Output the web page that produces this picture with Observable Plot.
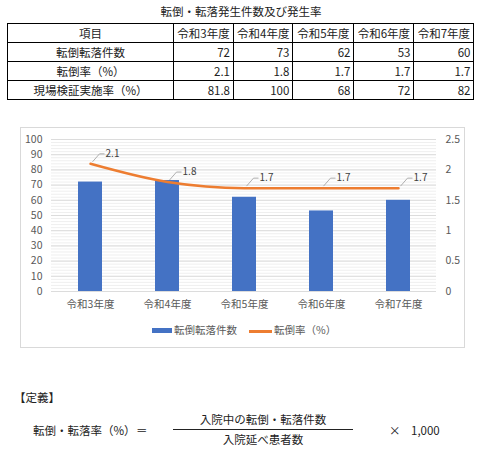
<!DOCTYPE html>
<html><head><meta charset="utf-8">
<script src="https://cdn.jsdelivr.net/npm/d3@7"></script>
<script src="https://cdn.jsdelivr.net/npm/@observablehq/plot@0.6"></script>
<style>
body{margin:0;width:480px;height:457px;position:relative;background:#fff;font-family:"Noto Sans CJK JP","Noto Sans",sans-serif;color:#222;overflow:hidden}
.abs{position:absolute;white-space:nowrap;line-height:1}
#title{left:0;width:482px;top:6px;text-align:center;font-size:11.5px}
table{position:absolute;left:7px;top:23px;border-collapse:collapse;table-layout:fixed;font-size:11.5px}
td{border:1px solid #000;height:18px;padding:0 3px;line-height:18px;white-space:nowrap}
td.c{text-align:center}
td.n{text-align:right}
#chartbox{position:absolute;left:20px;top:127px;width:445px;height:221px;box-sizing:border-box;border:1px solid #d9d9d9}
#chart{position:absolute;left:0;top:0}
.leg{font-size:10.5px;color:#595959}
</style></head><body>
<div id="title" class="abs">転倒・転落発生件数及び発生率</div>
<table id="tbl"></table>
<div id="chartbox"><div id="chart"></div></div>
<div class="abs" style="left:152px;top:328px;width:20px;height:5px;background:#4472C4"></div>
<div class="abs leg" id="leg1" style="left:174px;top:325px"></div>
<div class="abs" style="left:249px;top:330px;width:23px;height:2.5px;background:#ED7D31"></div>
<div class="abs leg" id="leg2" style="left:274px;top:325px"></div>

<div class="abs" style="left:14px;top:392px;font-size:11.5px">【定義】</div>
<div class="abs" style="left:33px;top:425px;font-size:11.5px">転倒・転落率（%）</div>
<div class="abs" style="left:136px;top:425px;font-size:11.5px">＝</div>
<div class="abs" style="left:173px;width:180px;top:414px;text-align:center;font-size:11.5px">入院中の転倒・転落件数</div>
<div class="abs" style="left:173px;width:180px;top:428.5px;height:1.3px;background:#222"></div>
<div class="abs" style="left:173px;width:180px;top:434px;text-align:center;font-size:11.5px">入院延べ患者数</div>
<div class="abs" style="left:389px;top:425px;font-size:11.5px">×</div>
<div class="abs" style="left:411px;top:425px;font-size:11.5px">1,000</div>
<script>
// ---- data ----
const years = ["令和3年度", "令和4年度", "令和5年度", "令和6年度", "令和7年度"];
const falls = [72, 73, 62, 53, 60];
const fallRate = [2.1, 1.8, 1.7, 1.7, 1.7];
const inspectionRate = [81.8, 100, 68, 72, 82];
const rowLabels = ["項目", "転倒転落件数", "転倒率（%）", "現場検証実施率（%）"];
const countTicks = [0, 10, 20, 30, 40, 50, 60, 70, 80, 90, 100];
const rateTicks = [0, 0.5, 1, 1.5, 2, 2.5];
const seriesNames = ["転倒転落件数", "転倒率（%）"];
const tableTitle = "転倒・転落発生件数及び発生率";

// ---- table ----
const tbl = document.getElementById("tbl");
const widths = [166, 60, 59, 61, 60, 60];
const cg = document.createElement("colgroup");
widths.forEach(w => { const c = document.createElement("col"); c.style.width = w + "px"; cg.appendChild(c); });
tbl.appendChild(cg);
const rows = [
  [rowLabels[0], ...years],
  [rowLabels[1], ...falls.map(String)],
  [rowLabels[2], ...fallRate.map(v => v.toFixed(1))],
  [rowLabels[3], ...inspectionRate.map(String)]
];
rows.forEach((r, ri) => {
  const tr = document.createElement("tr");
  r.forEach((v, ci) => {
    const td = document.createElement("td");
    td.textContent = v;
    td.className = (ri === 0 || ci === 0) ? "c" : "n";
    tr.appendChild(td);
  });
  tbl.appendChild(tr);
});
document.getElementById("leg1").textContent = seriesNames[0];
document.getElementById("leg2").textContent = seriesNames[1];

// ---- chart ----
const RATE_SCALE = 100 / 2.5;
const data = years.map((y, i) => ({year: y, count: falls[i], rate: fallRate[i]}));
const leader = {
  draw(ctx) { ctx.moveTo(2, -2); ctx.lineTo(9, -10); ctx.lineTo(14, -10); }
};
const minor = d3.range(0, 101, 2);
const chart = Plot.plot({
  width: 443, height: 188,
  marginLeft: 30, marginRight: 28, marginTop: 11, marginBottom: 25,
  style: {fontFamily: '"Noto Sans CJK JP","Noto Sans",sans-serif', fontSize: "10.5px", color: "#595959", background: "transparent"},
  x: {domain: years, paddingInner: 0.69, paddingOuter: 0.345, label: null},
  y: {domain: [0, 100], label: null},
  marks: [
    Plot.ruleY(minor, {stroke: "#efefef", strokeWidth: 1}),
    Plot.ruleY(countTicks, {stroke: "#dcdcdc", strokeWidth: 1}),
    Plot.axisX({tickSize: 0, tickPadding: 9, fill: "#595959", label: null}),
    Plot.axisY({ticks: countTicks, tickSize: 0, tickPadding: 9, fill: "#595959", label: null}),
    Plot.axisY({anchor: "right", ticks: rateTicks.map(v => v * RATE_SCALE), tickFormat: d => String(+(d / RATE_SCALE).toFixed(2)), tickSize: 0, tickPadding: 9, textAnchor: "start", fill: "#595959", label: null}),
    Plot.barY(data, {x: "year", y: "count", fill: "#4472C4"}),
    Plot.lineY(data, {x: "year", y: d => d.rate * RATE_SCALE, stroke: "#ED7D31", strokeWidth: 2.5, curve: "monotone-x"}),
    Plot.dot(data, {x: "year", y: d => d.rate * RATE_SCALE, symbol: leader, r: 3, fill: "none", stroke: "#a6a6a6", strokeWidth: 0.9}),
    Plot.text(data, {x: "year", y: d => d.rate * RATE_SCALE, text: d => d.rate.toFixed(1), dx: 22, dy: -10, fill: "#404040", fontSize: 10})
  ]
});
document.getElementById("chart").appendChild(chart);
</script>
</body></html>
